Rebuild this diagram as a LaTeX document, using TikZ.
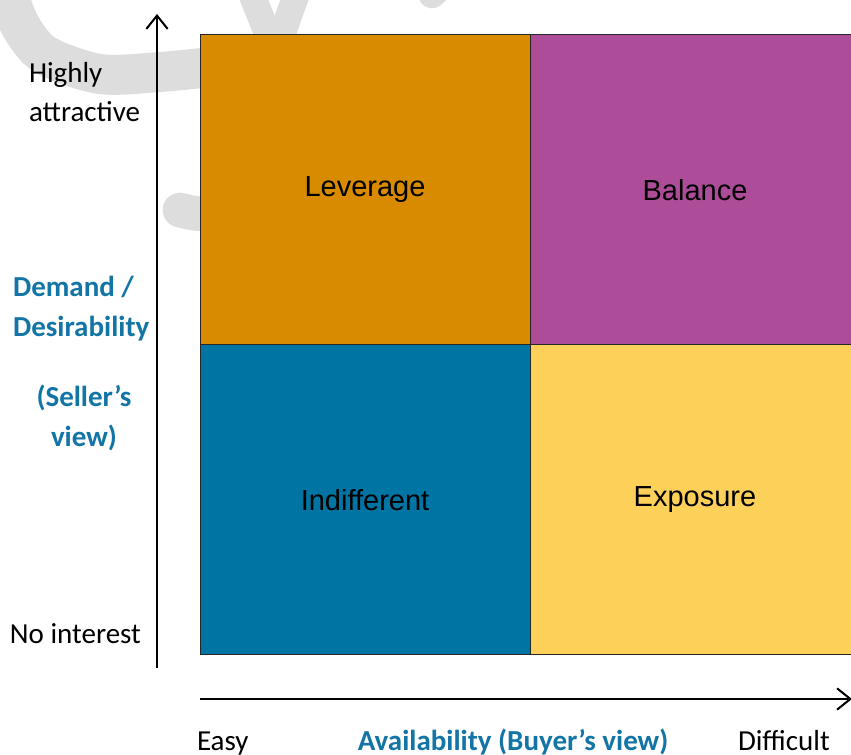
\documentclass[tikz,border=0pt]{standalone}
\usepackage{fontspec}
\setmainfont{Carlito}
\newfontfamily\arialfont{Liberation Sans}
\usetikzlibrary{arrows.meta,positioning}

\definecolor{levorange}{RGB}{217,139,0}
\definecolor{balpurple}{RGB}{173,76,153}
\definecolor{indblue}{RGB}{0,116,163}
\definecolor{expyellow}{RGB}{253,208,90}
\definecolor{axisblue}{RGB}{18,117,165}
\definecolor{markgray}{RGB}{221,221,221}

\begin{document}
\begin{tikzpicture}[x=0.75pt,y=-0.75pt,
    every node/.style={font=\fontsize{21.75}{29.5}\selectfont,inner sep=0pt,outer sep=0pt},
    quad/.style={draw=black!85,line width=0.75pt,minimum width=247.5pt,minimum height=232.5pt,
      font=\arialfont\fontsize{21.75}{26}\selectfont},
    axis/.style={line width=1.5pt,-{Straight Barb[length=10pt,width=16pt]}},
    title/.style={text=axisblue,font=\bfseries\fontsize{21.75}{30.5}\selectfont}]
  \clip (0,0) rectangle (851,755);

  % faint mark in the background
  \begin{scope}[markgray,line cap=round]
    \draw[line width=30pt] plot[smooth] coordinates
      {(5,-15) (20,25) (45,55) (100,74) (160,72) (220,66) (250,62)};
    \draw[line width=26pt] (180,210) .. controls (195,214) .. (225,214);
    \draw[line width=20pt] (250,-10) -- (270,40);
    \draw[line width=20pt] (298,-10) -- (280,40);
    \draw[line width=20pt] (432,-5) -- (470,-40);
  \end{scope}

  \node[quad,fill=levorange] (lev) at (365,190) {Leverage};
  \node[quad,fill=balpurple] (bal) [right=0pt of lev] {Balance};
  \node[quad,fill=indblue] (ind) [below=0pt of lev] {Indifferent};
  \node[quad,fill=expyellow] (exp) [right=0pt of ind] {Exposure};

  \coordinate (yfoot) at (157,668);
  \coordinate (ytip) at (157,14);
  \coordinate (xfoot) at (200,699);
  \coordinate (xtip) at (852,699);
  \draw[axis] (yfoot) -- (ytip);
  \draw[axis] (xfoot) -- (xtip);

  % labels of the vertical axis (base is the last line)
  \node[align=left,anchor=base west] (high) at (29,122) {Highly\\attractive};
  \node[title,align=left,anchor=base west] (dem) at (13,337) {Demand /\\Desirability};
  \node[title,align=center,anchor=base] (sel) at (84,447) {(Seller’s\\view)};
  \node[anchor=base west] (noint) at (10,644) {No interest};

  % labels of the horizontal axis
  \node[anchor=base west] (easy) at (197,751) {Easy};
  \node[title,anchor=base] (avail) at (513,751) {Availability (Buyer’s view)};
  \node[anchor=base west] (diff) at (738,751) {Difficult};
\end{tikzpicture}
\end{document}
